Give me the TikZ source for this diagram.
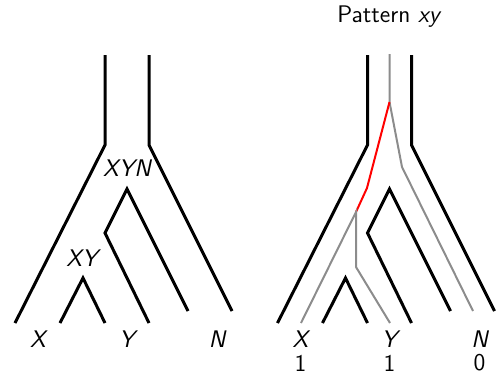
\documentclass[tikz,border=0pt]{standalone}
\newcommand\speciestree{%
  \coordinate (tl) at (105,55);  \coordinate (ml) at (105,145); \coordinate (x) at (15,323);
  \coordinate (tr) at (149,55);  \coordinate (mr) at (149,145); \coordinate (n) at (232,311);
  \coordinate (a) at (127,189);  \coordinate (b) at (188,311);  \coordinate (c) at (105,233); \coordinate (d) at (149,323);
  \coordinate (e) at (60,323);   \coordinate (f) at (83,278);   \coordinate (g) at (105,323);
  \draw[tree] (tl) -- (ml) -- (x);
  \draw[tree] (tr) -- (mr) -- (n);
  \draw[tree] (b) -- (a) -- (c) -- (d);
  \draw[tree] (e) -- (f) -- (g);
  \node[lbl] (lx) at (38,339) {X};
  \node[lbl] (ly) at (127,339) {Y};
  \node[lbl] (ln) at (217,339) {N};
}
\begin{document}
\begin{tikzpicture}[x=0.5pt,y=-0.5pt,
  tree/.style={line width=1.5pt, line join=miter},
  gene/.style={line width=1pt, black!45},
  gred/.style={line width=1pt, red},
  lbl/.style={font=\sffamily\itshape\fontsize{12}{14}\selectfont, inner sep=0pt},
  num/.style={font=\sffamily\fontsize{12}{14}\selectfont, inner sep=0pt}]
\useasboundingbox (0,0) rectangle (498,381);
\begin{scope}[name prefix=L-]
  \speciestree
  \node[lbl] (xyn) at (127,168) {XYN};
  \node[lbl] (xy) at (82,258) {XY};
\end{scope}
\begin{scope}[shift={(262.5,0)}, name prefix=R-]
  \speciestree
  \coordinate (g0) at (127,54);
  \coordinate (g1) at (127,102);
  \coordinate (g2) at (139.5,167);
  \coordinate (g3) at (210.5,311);
  \coordinate (r1) at (104.5,188);
  \coordinate (r2) at (93.5,212);
  \coordinate (g4) at (38.5,323);
  \coordinate (g5) at (93.5,267);
  \coordinate (g6) at (127.5,323);
  \draw[gene] (g0) -- (g1) -- (g2) -- (g3);
  \draw[gred] (g1) -- (r1) -- (r2);
  \draw[gene] (g4) -- (r2) -- (g5) -- (g6);
  \node[num] (nx) at (38,363) {1};
  \node[num] (ny) at (127,363) {1};
  \node[num] (nn) at (217,363) {0};
  \node[font=\sffamily\fontsize{12}{14}\selectfont, inner sep=0pt] (title) at (127,17) {Pattern \textit{xy}};
\end{scope}
\end{tikzpicture}
\end{document}
